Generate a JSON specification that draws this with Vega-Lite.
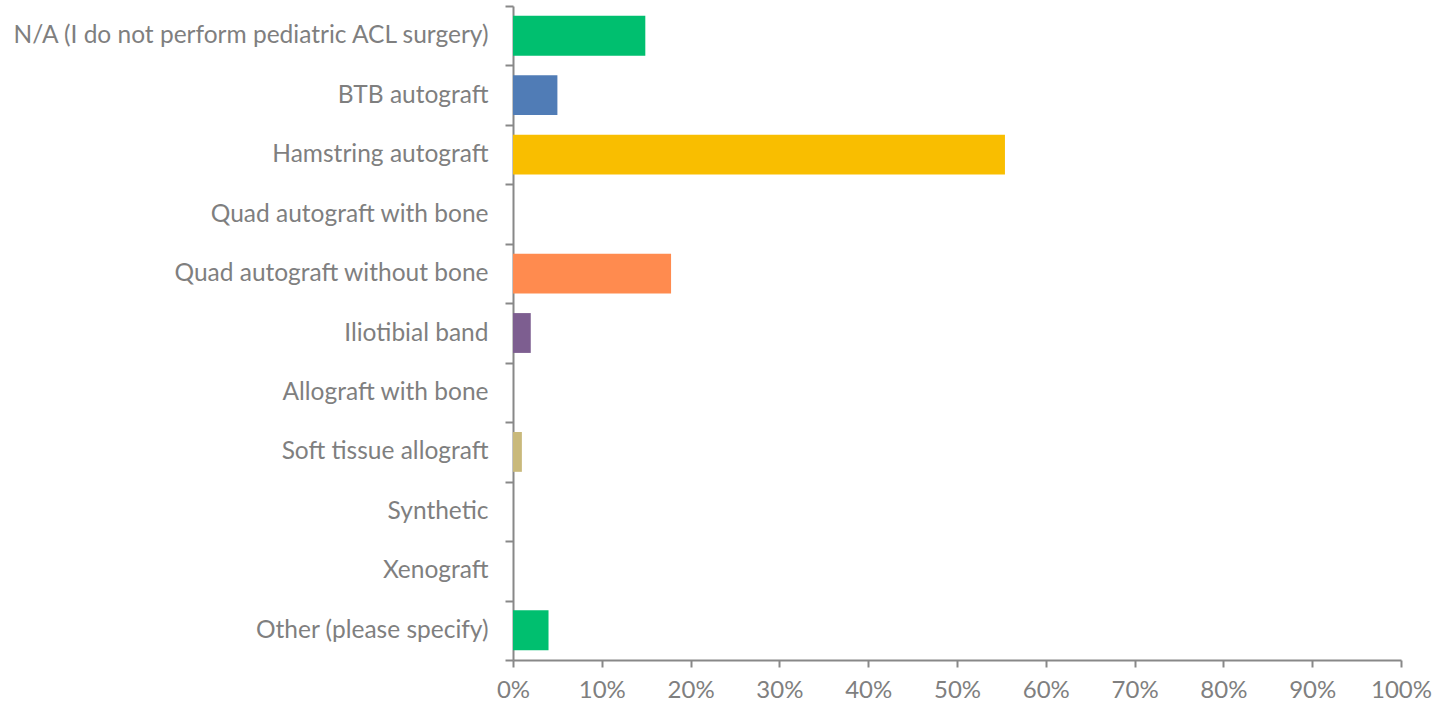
{
  "$schema": "https://vega.github.io/schema/vega-lite/v6.json",
  "width": 888,
  "height": 654,
  "autosize": {"type": "none"},
  "padding": {"left": 513, "top": 6, "right": 40, "bottom": 46},
  "background": "white",
  "config": {"view": {"stroke": null}},
  "data": {
    "values": [
      {"answer": "N/A (I do not perform pediatric ACL surgery)", "pct": 0.149},
      {"answer": "BTB autograft", "pct": 0.05},
      {"answer": "Hamstring autograft", "pct": 0.554},
      {"answer": "Quad autograft with bone", "pct": 0},
      {"answer": "Quad autograft without bone", "pct": 0.178},
      {"answer": "Iliotibial band", "pct": 0.02},
      {"answer": "Allograft with bone", "pct": 0},
      {"answer": "Soft tissue allograft", "pct": 0.01},
      {"answer": "Synthetic", "pct": 0},
      {"answer": "Xenograft", "pct": 0},
      {"answer": "Other (please specify)", "pct": 0.04}
    ]
  },
  "mark": {"type": "bar", "height": {"band": 0.67}},
  "encoding": {
    "y": {
      "field": "answer",
      "type": "nominal",
      "sort": null,
      "title": null,
      "scale": {"paddingInner": 0, "paddingOuter": 0},
      "axis": {
        "tickBand": "extent",
        "domainColor": "#888888",
        "domainWidth": 2,
        "tickColor": "#888888",
        "tickWidth": 2,
        "tickSize": 8,
        "labelPadding": 17,
        "labelFont": "Lato",
        "labelFontSize": 24.5,
        "labelColor": "#7f7f7f",
        "labelLimit": 600
      }
    },
    "x": {
      "field": "pct",
      "type": "quantitative",
      "title": null,
      "scale": {"domain": [0, 1], "nice": false},
      "axis": {
        "values": [0, 0.1, 0.2, 0.3, 0.4, 0.5, 0.6, 0.7, 0.8, 0.9, 1],
        "format": ".0%",
        "grid": false,
        "domainColor": "#888888",
        "domainWidth": 2,
        "tickColor": "#888888",
        "tickWidth": 2,
        "tickSize": 7,
        "labelPadding": 11,
        "labelFont": "Lato",
        "labelFontSize": 24,
        "labelColor": "#7f7f7f",
        "labelFlush": false
      }
    },
    "color": {
      "field": "answer",
      "type": "nominal",
      "legend": null,
      "scale": {
        "domain": ["N/A (I do not perform pediatric ACL surgery)", "BTB autograft", "Hamstring autograft", "Quad autograft with bone", "Quad autograft without bone", "Iliotibial band", "Allograft with bone", "Soft tissue allograft", "Synthetic", "Xenograft", "Other (please specify)"],
        "range": ["#00BF6F", "#507CB6", "#F9BE00", "#6BC8CD", "#FF8B4F", "#7D5E90", "#D25F90", "#C9B97B", "#0090A8", "#A0A0A0", "#00BF6F"]
      }
    }
  }
}
